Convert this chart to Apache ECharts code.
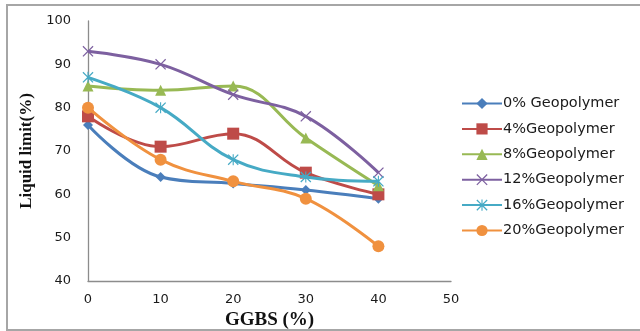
<!DOCTYPE html>
<html>
<head>
<meta charset="utf-8">
<script src="https://cdn.jsdelivr.net/npm/echarts@6/dist/echarts.min.js"></script>
<style>
  html, body { margin: 0; padding: 0; background: #fff; }
  #chart { width: 640px; height: 331px; }
</style>
</head>
<body>
<div id="chart"></div>
<script>
// GGBS content (%) on the x axis
const ggbs = [0, 10, 20, 30, 40];

// Liquid limit (%) for each geopolymer dosage
const geo0  = [76, 64, 62.5, 61, 59];
const geo4  = [78, 71, 74, 65, 60];
const geo8  = [85, 84, 85, 73, 62];
const geo12 = [93, 90, 83, 78, 65];
const geo16 = [87, 80, 68, 64, 63];
const geo20 = [80, 68, 63, 59, 48];

const seriesNames = ['0% Geopolymer', '4%Geopolymer', '8%Geopolymer', '12%Geopolymer', '16%Geopolymer', '20%Geopolymer'];
const seriesValues = [geo0, geo4, geo8, geo12, geo16, geo20];

// Axis ticks
const xTicks = { min: 0, max: 50, step: 10 };
const yTicks = { min: 40, max: 100, step: 10 };

const colors = ['#4A7EBB', '#BE4B48', '#98B954', '#7D60A0', '#46AAC5', '#F0913F'];

// Marker shapes: diamond, square, triangle, cross, asterisk, circle
const crossPath = 'path://M0,1.6 L1.6,0 L10,8.4 L18.4,0 L20,1.6 L11.6,10 L20,18.4 L18.4,20 L10,11.6 L1.6,20 L0,18.4 L8.4,10 Z';
const starPath = crossPath.replace(' Z', ' Z M9,0 L11,0 L11,20 L9,20 Z');
const symbols = ['diamond', 'rect', 'triangle', crossPath, starPath, 'circle'];
const symbolSizes = [10, 12, 11, 11, 11, 12];

const chart = echarts.init(document.getElementById('chart'), null, { renderer: 'canvas' });

const series = seriesNames.map((name, i) => ({
  name: name,
  type: 'line',
  smooth: 0.4,
  data: ggbs.map((x, j) => [x, seriesValues[i][j]]),
  symbol: symbols[i],
  symbolSize: symbolSizes[i],
  showAllSymbol: true,
  lineStyle: { width: 3, color: colors[i] },
  itemStyle: { color: colors[i], borderWidth: 0 },
  z: 2 + i,
  animation: false
}));

chart.setOption({
  backgroundColor: '#ffffff',
  animation: false,
  color: colors,
  graphic: [{
    type: 'rect',
    shape: { x: 7, y: 5, width: 700, height: 325 },
    style: { fill: 'none', stroke: '#a6a6a6', lineWidth: 2 },
    silent: true,
    z: 0
  }],
  grid: { left: 88, right: 189, top: 21, bottom: 50, containLabel: false, outerBoundsMode: 'none' },
  legend: {
    orient: 'vertical',
    left: 461,
    top: 96,
    padding: 0,
    itemWidth: 40,
    itemHeight: 14,
    itemGap: 10.4,
    data: seriesNames,
    textStyle: { fontFamily: 'DejaVu Sans', fontSize: 14.5, lineHeight: 14, color: '#1a1a1a', padding: [0, 0, 0, -4] }
  },
  xAxis: {
    type: 'value',
    min: xTicks.min,
    max: xTicks.max,
    interval: xTicks.step,
    name: 'GGBS (%)',
    nameLocation: 'middle',
    nameGap: 29,
    nameTextStyle: { fontFamily: 'Liberation Serif', fontWeight: 'bold', fontSize: 19, color: '#111' },
    axisLine: { lineStyle: { color: '#8c8c8c', width: 1.3 } },
    axisTick: { show: false },
    splitLine: { show: false },
    axisLabel: { fontFamily: 'DejaVu Sans', fontSize: 13, color: '#1a1a1a', margin: 12 }
  },
  yAxis: {
    type: 'value',
    min: yTicks.min,
    max: yTicks.max,
    interval: yTicks.step,
    name: 'Liquid limit(%)',
    nameLocation: 'middle',
    nameGap: 52,
    nameRotate: 90,
    nameTextStyle: { fontFamily: 'Liberation Serif', fontWeight: 'bold', fontSize: 17, color: '#111' },
    axisLine: { show: true, lineStyle: { color: '#8c8c8c', width: 1.3 } },
    axisTick: { show: false },
    splitLine: { show: false },
    axisLabel: { fontFamily: 'DejaVu Sans', fontSize: 13, color: '#1a1a1a', margin: 17 }
  },
  series: series
});
</script>
</body>
</html>
